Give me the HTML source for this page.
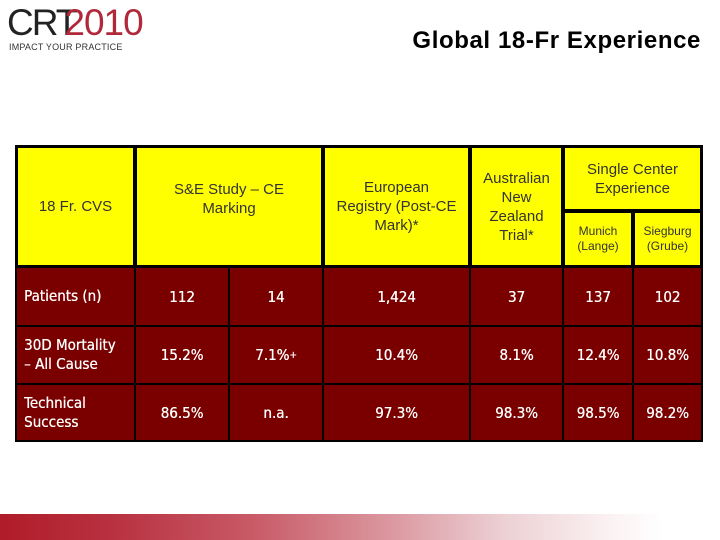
<!DOCTYPE html><html><head><style>
body{margin:0;width:720px;height:540px;position:relative;background:#fff;overflow:hidden;font-family:"Liberation Sans",sans-serif}
.c{position:absolute;box-sizing:border-box;border:1px solid #000;display:flex;align-items:center;justify-content:center;text-align:center}
.y{background:#ffff00;color:#333;font-size:15px;line-height:19px}
.r{background:#7a0000;color:#fff;font-size:15px;font-family:"DejaVu Sans Condensed","Liberation Sans",sans-serif;text-shadow:0.3px 0 0 #fff}
.l{justify-content:flex-start;padding-left:7px;text-align:left;line-height:19px}
</style></head><body>
<div style="position:absolute;left:7px;top:2px;font-size:37px;color:#222;letter-spacing:-2px">CR<span>T</span><span style="color:#b0283a;margin-left:-12px;letter-spacing:-1px">2010</span></div>
<div style="position:absolute;left:9px;top:42px;font-size:9px;color:#333;letter-spacing:0.2px">IMPACT YOUR PRACTICE</div>
<div style="position:absolute;right:19px;top:27px;font-size:24px;font-weight:bold;font-family:'Liberation Sans',sans-serif;color:#000;letter-spacing:0.6px">Global 18-Fr Experience</div>

<div style="position:absolute;left:15px;top:145px;width:688px;height:297px;background:#000"></div>
<div class="c y" style="left:16px;top:146px;width:119px;height:121px;border-width:2px">18 Fr. CVS</div>
<div class="c y" style="left:135px;top:146px;width:188px;height:121px;border-width:2px"><div style="margin-top:-16px">S&amp;E Study – CE<br>Marking</div></div>
<div class="c y" style="left:323px;top:146px;width:147px;height:121px;border-width:2px">European<br>Registry (Post-CE<br>Mark)*</div>
<div class="c y" style="left:470px;top:146px;width:93px;height:121px;border-width:2px">Australian<br>New<br>Zealand<br>Trial*</div>
<div class="c y" style="left:563px;top:146px;width:139px;height:65px;border-width:2px">Single Center<br>Experience</div>
<div class="c y" style="left:563px;top:211px;width:70px;height:56px;border-width:2px;font-size:12px;line-height:15px">Munich<br>(Lange)</div>
<div class="c y" style="left:633px;top:211px;width:69px;height:56px;border-width:2px;font-size:12px;line-height:15px">Siegburg<br>(Grube)</div>

<div class="c r l" style="left:16px;top:267px;width:119px;height:59px">Patients (n)</div>
<div class="c r" style="left:135px;top:267px;width:94px;height:59px">112</div>
<div class="c r" style="left:229px;top:267px;width:94px;height:59px">14</div>
<div class="c r" style="left:323px;top:267px;width:147px;height:59px">1,424</div>
<div class="c r" style="left:470px;top:267px;width:93px;height:59px">37</div>
<div class="c r" style="left:563px;top:267px;width:70px;height:59px">137</div>
<div class="c r" style="left:633px;top:267px;width:69px;height:59px">102</div>

<div class="c r l" style="left:16px;top:326px;width:119px;height:58px">30D Mortality<br>– All Cause</div>
<div class="c r" style="left:135px;top:326px;width:94px;height:58px">15.2%</div>
<div class="c r" style="left:229px;top:326px;width:94px;height:58px">7.1%<sup style="font-size:10px">+</sup></div>
<div class="c r" style="left:323px;top:326px;width:147px;height:58px">10.4%</div>
<div class="c r" style="left:470px;top:326px;width:93px;height:58px">8.1%</div>
<div class="c r" style="left:563px;top:326px;width:70px;height:58px">12.4%</div>
<div class="c r" style="left:633px;top:326px;width:69px;height:58px">10.8%</div>

<div class="c r l" style="left:16px;top:384px;width:119px;height:57px">Technical<br>Success</div>
<div class="c r" style="left:135px;top:384px;width:94px;height:57px">86.5%</div>
<div class="c r" style="left:229px;top:384px;width:94px;height:57px">n.a.</div>
<div class="c r" style="left:323px;top:384px;width:147px;height:57px">97.3%</div>
<div class="c r" style="left:470px;top:384px;width:93px;height:57px">98.3%</div>
<div class="c r" style="left:563px;top:384px;width:70px;height:57px">98.5%</div>
<div class="c r" style="left:633px;top:384px;width:69px;height:57px">98.2%</div>

<div style="position:absolute;left:0;top:514px;width:720px;height:26px;background:linear-gradient(to right,#b01c28 0%,#b83040 15%,#c85a66 35%,#dc9aa2 55%,#ecd0d4 70%,#fbf2f3 85%,#fff 92%)"></div>
</body></html>
